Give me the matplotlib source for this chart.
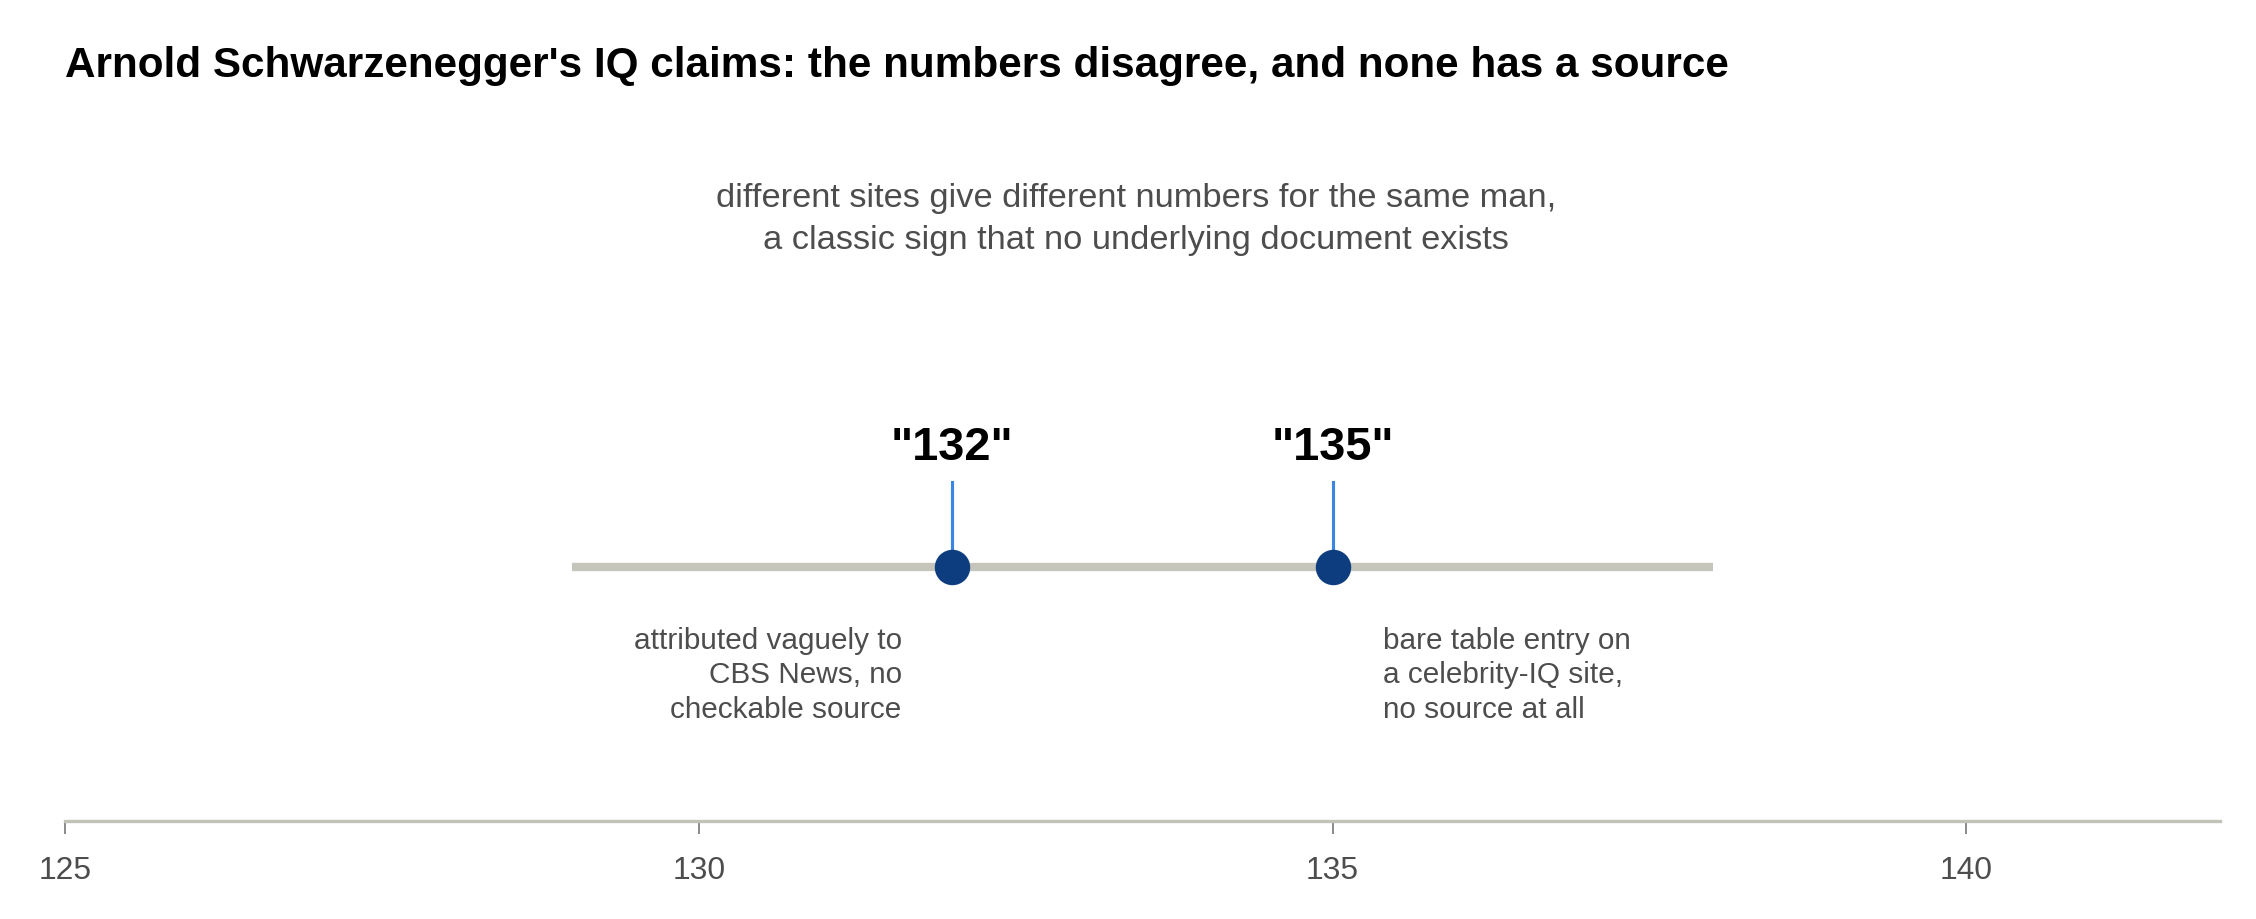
import matplotlib.pyplot as plt

plt.rcParams['font.family'] = ['Liberation Sans', 'DejaVu Sans']

# claimed IQ values and their notes
claims = [132, 135]
claim_labels = ['"132"', '"135"']
claim_notes = ["attributed vaguely to\nCBS News, no\ncheckable source",
               "bare table entry on\na celebrity-IQ site,\nno source at all"]
note_side = ["left", "right"]
track_range = [129, 138]
ticks = [125, 130, 135, 140]

title = "Arnold Schwarzenegger's IQ claims: the numbers disagree, and none has a source"
subtitle = ("different sites give different numbers for the same man,\n"
            "a classic sign that no underlying document exists")

grey_text = "#4d4d4d"
track_col = "#c5c5bc"
dot_col = "#0d3d7e"
stem_col = "#3a86e0"

fig = plt.figure(figsize=(15.04, 6.1333), dpi=150)
ax = fig.add_axes([65 / 2256, 0.106, (2220 - 65) / 2256, 0.894])
ax.set_xlim(125, 142)
ax.set_ylim(0, 10)

track_y = 3.1
ax.plot(track_range, [track_y, track_y], color=track_col, lw=4,
        solid_capstyle="butt", zorder=1)

for x, lab, note, side in zip(claims, claim_labels, claim_notes, note_side):
    ax.plot([x, x], [track_y, 4.13], color=stem_col, lw=1.5, zorder=2)
    ax.plot(x, track_y, "o", ms=16, color=dot_col, zorder=3)
    ax.text(x, 4.29, lab, ha="center", va="bottom", fontsize=22.5,
            fontweight="bold", color="black")
    if side == "left":
        ax.text(x - 0.4, 2.38, note, ha="right", va="top", fontsize=14.3,
                color=grey_text, linespacing=1.3)
    else:
        ax.text(x + 0.4, 2.38, note, ha="left", va="top", fontsize=14.3,
                color=grey_text, linespacing=1.3)

# subtitle centred over the axis
ax.text(133.45, 7.33, subtitle, ha="center", va="center", fontsize=16.5,
        color=grey_text, linespacing=1.45)

fig.text(65 / 2256, 0.928, title, ha="left", va="center", fontsize=20.3,
         fontweight="bold", color="black")

for s in ["top", "right", "left"]:
    ax.spines[s].set_visible(False)
ax.spines["bottom"].set_color("#c2c2b8")
ax.spines["bottom"].set_linewidth(1.6)
ax.set_yticks([])
ax.set_xticks(ticks)
ax.tick_params(axis="x", colors="#777777", length=6, width=0.8,
               labelsize=15.3, labelcolor=grey_text, pad=10)

plt.savefig("out.png", dpi=150)
